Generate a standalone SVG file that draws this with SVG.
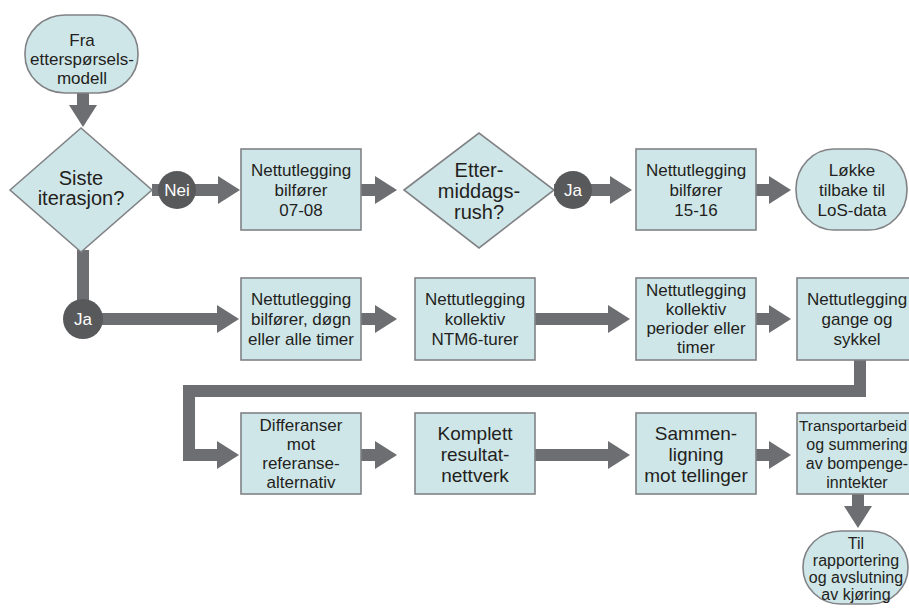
<svg xmlns="http://www.w3.org/2000/svg" width="909" height="608" viewBox="0 0 909 608">
<style>
.bg{fill:#ffffff}
.box{fill:#cfe6e9;stroke:#808285;stroke-width:1.6}
.con{fill:none;stroke:#6d6e71;stroke-width:12}
.circ{fill:#58595b}
.t{font-family:"Liberation Sans",Arial,sans-serif;font-size:17px;fill:#231f20;text-anchor:middle}
.sm{font-size:16px}
.big{font-size:19px}
.dia{font-size:20px}
.w{font-family:"Liberation Sans",Arial,sans-serif;font-size:17px;fill:#ffffff;text-anchor:middle}
</style>
<defs>
<marker id="ah" markerUnits="userSpaceOnUse" markerWidth="23" markerHeight="30" viewBox="0 0 23 30" refX="1" refY="15" orient="auto">
<path d="M0,1 L22,15 L0,29 z" fill="#6d6e71"/>
</marker>
</defs>
<rect class="bg" x="0" y="0" width="909" height="608"/>

<g id="connectors">
<line class="con" x1="83" y1="93" x2="83" y2="106" marker-end="url(#ah)"/>
<line class="con" x1="152" y1="190" x2="219" y2="190" marker-end="url(#ah)"/>
<line class="con" x1="361" y1="190" x2="376" y2="190" marker-end="url(#ah)"/>
<line class="con" x1="554" y1="190" x2="611" y2="190" marker-end="url(#ah)"/>
<line class="con" x1="756" y1="190" x2="770" y2="190" marker-end="url(#ah)"/>
<line class="con" x1="83" y1="250" x2="83" y2="319"/>
<line class="con" x1="83" y1="319" x2="218" y2="319" marker-end="url(#ah)"/>
<line class="con" x1="361" y1="319" x2="376" y2="319" marker-end="url(#ah)"/>
<line class="con" x1="535" y1="319" x2="609" y2="319" marker-end="url(#ah)"/>
<line class="con" x1="756" y1="319" x2="770" y2="319" marker-end="url(#ah)"/>
<polyline class="con" points="860,360 860,391 189,391 189,455 218,455" marker-end="url(#ah)"/>
<line class="con" x1="361" y1="455" x2="376" y2="455" marker-end="url(#ah)"/>
<line class="con" x1="535" y1="455" x2="609" y2="455" marker-end="url(#ah)"/>
<line class="con" x1="756" y1="455" x2="770" y2="455" marker-end="url(#ah)"/>
<line class="con" x1="858" y1="493" x2="858" y2="507" marker-end="url(#ah)"/>
</g>

<g id="start">
<rect class="box" x="25" y="15" width="113" height="78" rx="40" ry="38"/>
<text class="t" x="82" y="46">Fra</text>
<text class="t" x="82" y="65">etterspørsels-</text>
<text class="t" x="82" y="84">modell</text>
</g>

<g id="siste">
<polygon class="box" points="10,190 81,128 152,190 81,252"/>
<text class="t dia" x="81" y="185">Siste</text>
<text class="t dia" x="81" y="205">iterasjon?</text>
</g>

<g id="nei">
<circle class="circ" cx="177" cy="190" r="19"/>
<text class="w" x="177" y="196">Nei</text>
</g>

<g id="b0708">
<rect class="box" x="241" y="149" width="120" height="81"/>
<text class="t" x="301" y="176">Nettutlegging</text>
<text class="t" x="301" y="196">bilfører</text>
<text class="t" x="301" y="216">07-08</text>
</g>

<g id="ettermiddag">
<polygon class="box" points="404,190 479,133 554,190 479,248"/>
<text class="t dia" x="479" y="177">Etter-</text>
<text class="t dia" x="479" y="198">middags-</text>
<text class="t dia" x="479" y="219">rush?</text>
</g>

<g id="ja1">
<circle class="circ" cx="573" cy="190" r="19"/>
<text class="w" x="573" y="196">Ja</text>
</g>

<g id="b1516">
<rect class="box" x="636" y="149" width="120" height="81"/>
<text class="t" x="696" y="176">Nettutlegging</text>
<text class="t" x="696" y="196">bilfører</text>
<text class="t" x="696" y="216">15-16</text>
</g>

<g id="lokke">
<rect class="box" x="796" y="149" width="111" height="81" rx="38" ry="40"/>
<text class="t" x="852" y="176">Løkke</text>
<text class="t" x="852" y="196">tilbake til</text>
<text class="t" x="852" y="216">LoS-data</text>
</g>

<g id="ja2">
<circle class="circ" cx="83" cy="319" r="20"/>
<text class="w" x="83" y="325">Ja</text>
</g>

<g id="bdogn">
<rect class="box" x="241" y="278" width="120" height="82"/>
<text class="t" x="301" y="305">Nettutlegging</text>
<text class="t" x="301" y="325">bilfører, døgn</text>
<text class="t" x="301" y="345">eller alle timer</text>
</g>

<g id="bntm6">
<rect class="box" x="415" y="278" width="120" height="82"/>
<text class="t" x="475" y="305">Nettutlegging</text>
<text class="t" x="475" y="325">kollektiv</text>
<text class="t" x="475" y="345">NTM6-turer</text>
</g>

<g id="bperioder">
<rect class="box" x="636" y="278" width="120" height="82"/>
<text class="t" x="696" y="296">Nettutlegging</text>
<text class="t" x="696" y="315">kollektiv</text>
<text class="t" x="696" y="334">perioder eller</text>
<text class="t" x="696" y="353">timer</text>
</g>

<g id="bgange">
<rect class="box" x="797" y="278" width="120" height="82"/>
<text class="t" x="857" y="305">Nettutlegging</text>
<text class="t" x="857" y="325">gange og</text>
<text class="t" x="857" y="345">sykkel</text>
</g>

<g id="bdiff">
<rect class="box" x="241" y="413" width="120" height="81"/>
<text class="t" x="301" y="431">Differanser</text>
<text class="t" x="301" y="450">mot</text>
<text class="t" x="301" y="469">referanse-</text>
<text class="t" x="301" y="488">alternativ</text>
</g>

<g id="bkomplett">
<rect class="box" x="415" y="413" width="120" height="81"/>
<text class="t big" x="475" y="440">Komplett</text>
<text class="t big" x="475" y="461">resultat-</text>
<text class="t big" x="475" y="482">nettverk</text>
</g>

<g id="bsammen">
<rect class="box" x="636" y="413" width="120" height="81"/>
<text class="t big" x="696" y="440">Sammen-</text>
<text class="t big" x="696" y="461">ligning</text>
<text class="t big" x="696" y="482">mot tellinger</text>
</g>

<g id="btransport">
<rect class="box" x="797" y="413" width="120" height="81"/>
<text class="t" x="853" y="431" style="font-size:15.4px">Transportarbeid</text>
<text class="t sm" x="857" y="450">og summering</text>
<text class="t sm" x="857" y="469">av bompenge-</text>
<text class="t sm" x="857" y="488">inntekter</text>
</g>

<g id="slutt">
<rect class="box" x="803" y="531" width="105" height="73" rx="38" ry="36"/>
<text class="t sm" x="856" y="549">Til</text>
<text class="t sm" x="856" y="566">rapportering</text>
<text class="t sm" x="856" y="583">og avslutning</text>
<text class="t sm" x="856" y="600">av kjøring</text>
</g>
</svg>
